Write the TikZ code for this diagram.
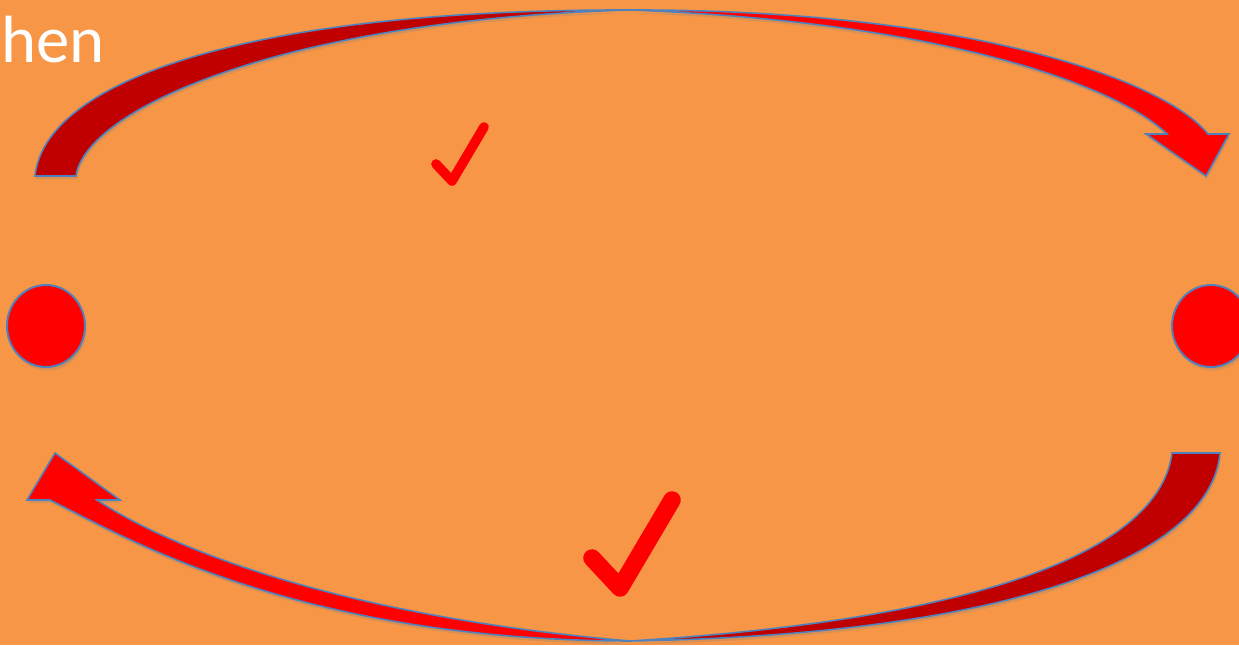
\documentclass[tikz,border=0pt]{standalone}
\usepackage{fontspec}
\setmainfont{Carlito}
\usetikzlibrary{shapes.geometric,shadows}
\definecolor{bg}{HTML}{F79646}
\definecolor{backred}{HTML}{C00000}
\definecolor{frontred}{HTML}{FF0000}
\definecolor{edgeblue}{HTML}{4F81BD}
\tikzset{
  band/.style={draw=edgeblue, line width=0.9pt, line join=miter,
    drop shadow={opacity=0.25, shadow xshift=0.6pt, shadow yshift=-1.8pt}},
  dot/.style={ellipse, draw=edgeblue, line width=1.1pt, fill=frontred,
    minimum width=1.56cm, minimum height=1.64cm, inner sep=0pt,
    drop shadow={opacity=0.25, shadow xshift=0.8pt, shadow yshift=-2pt}},
  tick/.style={draw=frontred, line cap=round, line join=round},
}
\begin{document}
\begin{tikzpicture}[x=0.02cm,y=-0.02cm]
\fill[bg] (0,0) rectangle (1239,645);
\useasboundingbox (0,0) rectangle (1239,645);
\clip (0,0) rectangle (1239,645);

\node[text=white, font=\fontsize{38}{44}\selectfont, anchor=base west, inner sep=0pt] (title) at (1,63) {hen};

% top curved arrow
\path[band, fill=backred] (35,176) .. controls (45,80) and (250,9) .. (630,10)
  .. controls (280,20) and (85,110) .. (76,176) -- cycle;
\path[band, fill=frontred] (630,10) .. controls (950,9) and (1160,75) .. (1208,134)
  -- (1229,134) -- (1206,176) -- (1146,134) -- (1167,134)
  .. controls (1120,88) and (950,22) .. (630,10) -- cycle;

% bottom curved arrow
\path[band, fill=backred] (1220,453) .. controls (1210,560) and (1000,635) .. (630,641)
  .. controls (1000,618) and (1160,545) .. (1172,453) -- cycle;
\path[band, fill=frontred] (630,641) .. controls (300,640) and (130,540) .. (50,500)
  -- (27,500) -- (55,453) -- (120,500) -- (97,500)
  .. controls (165,545) and (330,615) .. (630,641) -- cycle;

% dots
\node[dot] (L) at (46,326) {};
\node[dot] (R) at (1211,326) {};

% check marks
\draw[tick, line width=5.5pt] (436,164) -- (452,181) -- (484,127);
\draw[tick, line width=10pt] (592,558) -- (620,588) -- (672,500);
\end{tikzpicture}
\end{document}
